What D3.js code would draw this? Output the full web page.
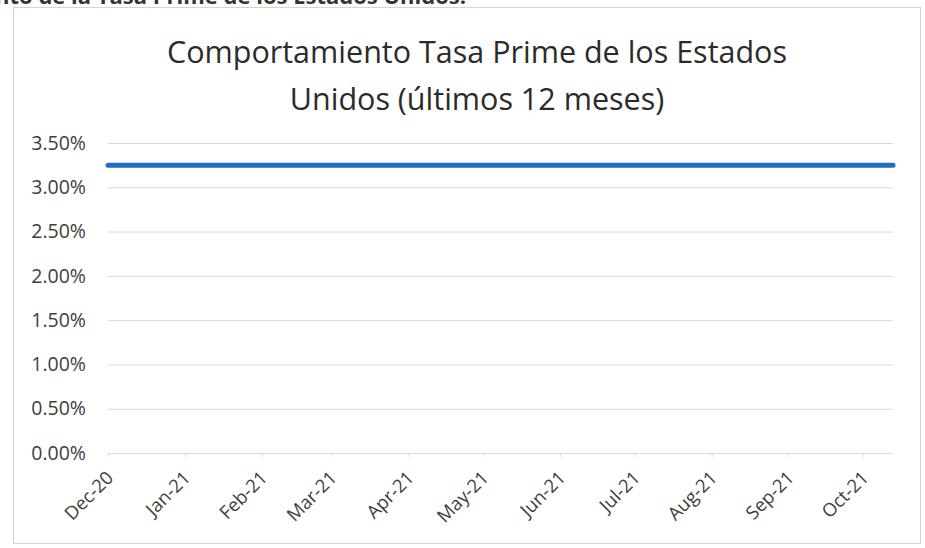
<!DOCTYPE html>
<html>
<head>
<meta charset="utf-8">
<script src="https://cdn.jsdelivr.net/npm/d3@7"></script>
<style>
	body {margin:0; background:#fff;}
	svg {display:block;}
	.axisLabel {font-family:'Open Sans','Noto Sans',sans-serif; fill:#404040;}
</style>
</head>
<body>
<script>
// data: prime rate flat at 3.25%
var dates = ['2020-12-01','2021-01-01','2021-02-01','2021-03-01','2021-04-01','2021-05-01','2021-06-01',
             '2021-07-01','2021-08-01','2021-09-01','2021-10-01','2021-10-13'];
var rates = [0.0325,0.0325,0.0325,0.0325,0.0325,0.0325,0.0325,0.0325,0.0325,0.0325,0.0325,0.0325];
var yTicks = [0,0.005,0.01,0.015,0.02,0.025,0.03,0.035];
var tickDates = ['2020-12-01','2021-01-01','2021-02-01','2021-03-01','2021-04-01','2021-05-01',
                 '2021-06-01','2021-07-01','2021-08-01','2021-09-01','2021-10-01'];
var titleLines = ['Comportamiento Tasa Prime de los Estados','Unidos (últimos 12 meses)'];
var headerText = 'Comportamiento de la Tasa Prime de los Estados Unidos.';

var width = 925, height = 548;
var parse = d3.timeParse('%Y-%m-%d');
var plotData = dates.map(function(d,i){return {date:parse(d), value:rates[i]};});

var svg = d3.select('body').append('svg').attr('width',width).attr('height',height);

//Cut header text from the document above the chart
svg.append('text')
	.attr('x',466).attr('y',4)
	.attr('text-anchor','end')
	.attr('font-family','Open Sans, sans-serif')
	.attr('font-weight','bold')
	.attr('font-size',22)
	.attr('fill','#333')
	.text(headerText);

//Chart frame
svg.append('rect')
	.attr('x',13.5).attr('y',7.5)
	.attr('width',907).attr('height',536)
	.attr('fill','none')
	.attr('stroke','#d4d4d4');

//Title
svg.append('g').selectAll('text').data(titleLines).enter()
	.append('text')
	.attr('x',477)
	.attr('y',function(d,i){return 63+i*47;})
	.attr('text-anchor','middle')
	.attr('font-family','Open Sans, sans-serif')
	.attr('font-size',30.5)
	.attr('fill','#2b2b2b')
	.text(function(d){return d;});

var xScale = d3.scaleTime().domain(d3.extent(plotData,function(d){return d.date;})).range([108,893]);
var yScale = d3.scaleLinear().domain([0,0.035]).range([453,143]);

//Gridlines
var yAxis = d3.axisLeft(yScale).tickValues(yTicks).tickSize(-(893-108)).tickPadding(22)
	.tickFormat(d3.format('.2%'));
var yAxisG = svg.append('g').attr('transform','translate(108,0)').call(yAxis);
yAxisG.select('.domain').remove();
yAxisG.selectAll('line').attr('stroke','#d9d9d9').attr('stroke-width',1);
yAxisG.selectAll('text').classed('axisLabel',true).attr('font-size',19.5).attr('x',-22);

//X axis
var xAxis = d3.axisBottom(xScale).tickValues(tickDates.map(parse)).tickSize(4).tickSizeOuter(0)
	.tickFormat(d3.timeFormat('%b-%y'));
var xAxisG = svg.append('g').attr('transform','translate(0,453)').call(xAxis);
xAxisG.select('.domain').attr('stroke','#d9d9d9');
xAxisG.selectAll('line').attr('stroke','#d9d9d9');
xAxisG.selectAll('text').classed('axisLabel',true)
	.attr('font-size',18.5)
	.attr('text-anchor','end')
	.attr('x',0).attr('y',0).attr('dy',0)
	.attr('transform','translate(6,26) rotate(-45)');

//Line
var line = d3.line().x(function(d){return xScale(d.date);}).y(function(d){return yScale(d.value);});
svg.append('path').datum(plotData)
	.attr('d',line)
	.attr('fill','none')
	.attr('stroke','#1f6fc5')
	.attr('stroke-width',5)
	.attr('stroke-linecap','round');
</script>
</body>
</html>
